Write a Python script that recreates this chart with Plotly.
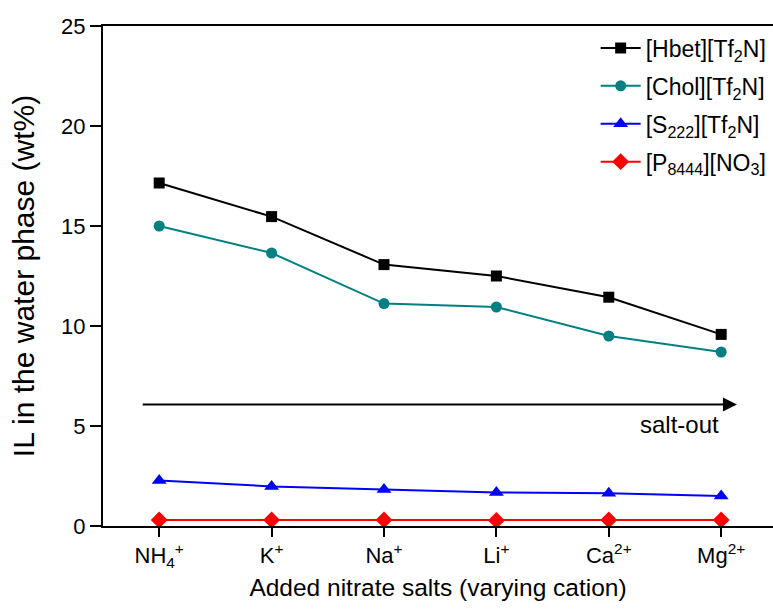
import plotly.graph_objects as go

categories = ["NH4+", "K+", "Na+", "Li+", "Ca2+", "Mg2+"]
tick_labels = ["NH<sub>4</sub><sup>+</sup>", "K<sup>+</sup>", "Na<sup>+</sup>",
               "Li<sup>+</sup>", "Ca<sup>2+</sup>", "Mg<sup>2+</sup>"]
hbet = [17.15, 15.47, 13.07, 12.5, 11.44, 9.58]
chol = [15.0, 13.65, 11.12, 10.95, 9.5, 8.7]
s222 = [2.28, 1.98, 1.82, 1.68, 1.64, 1.5]
p8444 = [0.3, 0.3, 0.3, 0.28, 0.3, 0.3]

series = [
    ("[Hbet][Tf<sub>2</sub>N]", hbet, "#000000", "square", 11),
    ("[Chol][Tf<sub>2</sub>N]", chol, "#008080", "circle", 11),
    ("[S<sub>222</sub>][Tf<sub>2</sub>N]", s222, "#0000FF", "triangle-up", 13),
    ("[P<sub>8444</sub>][NO<sub>3</sub>]", p8444, "#FF0000", "diamond", 13),
]

x = list(range(len(categories)))
fig = go.Figure()
for i, (name, vals, color, sym, msize) in enumerate(series):
    fig.add_trace(go.Scatter(
        x=x, y=vals, name=name, mode="lines+markers", legendgroup=f"g{i}",
        line=dict(color=color, width=2),
        marker=dict(symbol=sym, size=msize, color=color),
    ))

font = "Arial, Liberation Sans, sans-serif"
fig.update_layout(
    width=773, height=612,
    margin=dict(l=103, r=0, t=26, b=86),
    plot_bgcolor="white", paper_bgcolor="white",
    font=dict(family=font, size=22, color="black"),
    showlegend=True,
    legend=dict(x=0.998, y=0.999, xanchor="right", yanchor="top",
                font=dict(size=23), bgcolor="rgba(0,0,0,0)",
                tracegroupgap=5, itemwidth=40),
    xaxis=dict(
        range=[-0.5, 5.461], tickmode="array", tickvals=x, ticktext=tick_labels,
        showline=True, linecolor="black", linewidth=2, mirror=True,
        ticks="outside", ticklen=9, tickwidth=2, tickcolor="black",
        showgrid=False, zeroline=False,
        tickfont=dict(size=22),
        title=dict(text="Added nitrate salts (varying cation)", font=dict(size=24.5), standoff=9),
    ),
    yaxis=dict(
        range=[0, 25], tickvals=[0, 5, 10, 15, 20, 25],
        showline=True, linecolor="black", linewidth=2, mirror=False,
        ticks="outside", ticklen=11, tickwidth=2, tickcolor="black",
        showgrid=False, zeroline=False,
        tickfont=dict(size=22),
        title=dict(text="IL in the water phase (wt%)", font=dict(size=30), standoff=18),
    ),
)

fig.add_annotation(
    x=5.14, y=6.08, ax=-0.16, ay=6.08, xref="x", yref="y", axref="x", ayref="y",
    text="", showarrow=True, arrowhead=2, arrowsize=1.4, arrowwidth=2, arrowcolor="black",
)
fig.add_annotation(
    x=4.63, y=5.1, xref="x", yref="y", text="salt-out", showarrow=False,
    font=dict(size=24), xanchor="center", yanchor="middle",
)

fig.write_html("out.html")
